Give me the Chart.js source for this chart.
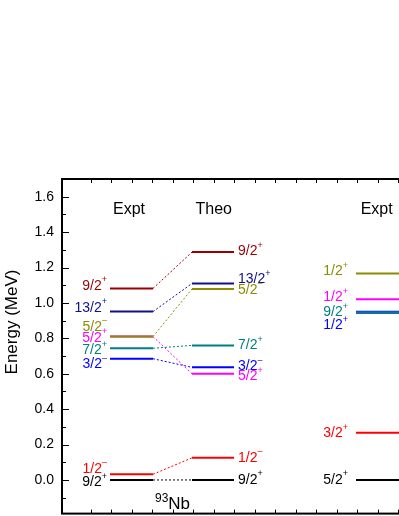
<!DOCTYPE html>
<html>
<head>
<meta charset="utf-8">
<script src="https://cdn.jsdelivr.net/npm/chart.js@4/dist/chart.umd.min.js"></script>
<style>
  html, body { margin: 0; padding: 0; background: #fff; overflow: hidden; }
  #levels { position: absolute; left: 0; top: 0; }
</style>
</head>
<body>
<canvas id="levels" width="470" height="530"></canvas>
<script>
// 93Nb: experiment vs theory
const nbSpins = ["9/2", "13/2", "5/2", "5/2", "7/2", "3/2", "1/2", "9/2"];
const nbParity = ["+", "+", "-", "+", "+", "-", "-", "+"];
const nbExpt = [1.082, 0.951, 0.81, 0.81, 0.744, 0.685, 0.032, 0.0];
const nbTheo = [1.287, 1.110, 1.079, 0.600, 0.760, 0.636, 0.125, 0.0];
const nbExptLabelAt = [1.097, 0.972, 0.864, 0.802, 0.732, 0.654, 0.062, -0.015];
const nbTheoLabelAt = [1.292, 1.135, 1.075, 0.585, 0.760, 0.641, 0.125, 0.0];
const nbColors = ["#990000", "#10108c", "#8c8c00", "#ff00ff", "#008080", "#0000ff", "#ff0000", "#000000"];

// second nucleus, experiment only (cut off on the right)
const rSpins = ["1/2", "1/2", "9/2", "1/2", "3/2", "5/2"];
const rParity = ["+", "+", "+", "+", "+", "+"];
const rExpt = [1.166, 1.021, 0.947, 0.947, 0.266, 0.0];
const rLabelAt = [1.179, 1.030, 0.947, 0.872, 0.262, 0.0];
const rColors = ["#8c8c00", "#ff00ff", "#008080", "#0000ff", "#ff0000", "#000000"];

const yTicks = [0, 0.2, 0.4, 0.6, 0.8, 1.0, 1.2, 1.4, 1.6];
const yMinor = [-0.1, 0.1, 0.3, 0.5, 0.7, 0.9, 1.1, 1.3, 1.5];

// column positions (x units)
const colExpt = [48, 91], colTheo = [130, 172], colRight = [294, 390];

const datasets = [];
nbExpt.forEach((e, i) => {
  datasets.push({ data: [{x: colExpt[0], y: e}, {x: colExpt[1], y: e}], borderColor: nbColors[i], borderWidth: 2 });
});
nbTheo.forEach((e, i) => {
  datasets.push({ data: [{x: colTheo[0], y: e}, {x: colTheo[1], y: e}], borderColor: nbColors[i], borderWidth: 2 });
});
nbExpt.forEach((e, i) => {
  datasets.push({ data: [{x: colExpt[1], y: e}, {x: colTheo[0], y: nbTheo[i]}], borderColor: nbColors[i], borderWidth: 1, borderDash: [2, 2] });
});
rExpt.forEach((e, i) => {
  datasets.push({ data: [{x: colRight[0], y: e}, {x: colRight[1], y: e}], borderColor: rColors[i], borderWidth: i == 3 ? 3 : 2 });
});

function drawLevelLabel(ctx, spin, parity, x, y, align) {
  const sup = parity == "-" ? "\u2013" : "+";
  ctx.font = "14px 'Liberation Sans', Arial, sans-serif";
  const w1 = ctx.measureText(spin).width;
  ctx.font = "9px 'Liberation Sans', Arial, sans-serif";
  const w2 = ctx.measureText(sup).width;
  let x0 = align == "right" ? x - w1 - w2 : x;
  ctx.textAlign = "left";
  ctx.textBaseline = "middle";
  ctx.font = "14px 'Liberation Sans', Arial, sans-serif";
  ctx.fillText(spin, x0, y);
  ctx.font = "9px 'Liberation Sans', Arial, sans-serif";
  ctx.fillText(sup, x0 + w1, y - 6);
}

const decor = {
  id: "decor",
  afterDraw(chart) {
    const ctx = chart.ctx, a = chart.chartArea;
    const xs = chart.scales.x, ys = chart.scales.y;
    ctx.save();
    // frame
    ctx.strokeStyle = "#000";
    ctx.lineWidth = 2;
    ctx.strokeRect(a.left, a.top, a.right - a.left, a.bottom - a.top);
    // inward y ticks
    ctx.lineWidth = 1;
    ctx.beginPath();
    yTicks.forEach(v => { const p = Math.round(ys.getPixelForValue(v)) + 0.5; ctx.moveTo(a.left, p); ctx.lineTo(a.left + 7, p); });
    yMinor.forEach(v => { const p = Math.round(ys.getPixelForValue(v)) + 0.5; ctx.moveTo(a.left, p); ctx.lineTo(a.left + 4, p); });
    // top / bottom ticks
    for (let v = 28.7; v < 400; v += 20.5) {
      const p = Math.round(xs.getPixelForValue(v)) + 0.5;
      ctx.moveTo(p, a.top); ctx.lineTo(p, a.top + 4);
      ctx.moveTo(p, a.bottom); ctx.lineTo(p, a.bottom - 4);
    }
    ctx.stroke();

    // level labels
    nbSpins.forEach((s, i) => {
      ctx.fillStyle = nbColors[i];
      drawLevelLabel(ctx, s, nbParity[i], xs.getPixelForValue(45), ys.getPixelForValue(nbExptLabelAt[i]), "right");
      drawLevelLabel(ctx, s, nbParity[i], xs.getPixelForValue(176), ys.getPixelForValue(nbTheoLabelAt[i]), "left");
    });
    rSpins.forEach((s, i) => {
      ctx.fillStyle = rColors[i];
      drawLevelLabel(ctx, s, rParity[i], xs.getPixelForValue(286), ys.getPixelForValue(rLabelAt[i]), "right");
    });

    // column headings
    ctx.fillStyle = "#000";
    ctx.textAlign = "center";
    ctx.textBaseline = "middle";
    ctx.font = "16px 'Liberation Sans', Arial, sans-serif";
    const hy = ys.getPixelForValue(1.53);
    ctx.fillText("Expt", xs.getPixelForValue(67), hy);
    ctx.fillText("Theo", xs.getPixelForValue(151.7), hy);
    ctx.fillText("Expt", xs.getPixelForValue(314.7), hy);

    // nucleus name
    ctx.textAlign = "left";
    ctx.textBaseline = "alphabetic";
    const nx = xs.getPixelForValue(93), ny = ys.getPixelForValue(-0.163);
    ctx.font = "12px 'Liberation Sans', Arial, sans-serif";
    ctx.fillText("93", nx, ny - 7);
    const w93 = ctx.measureText("93").width;
    ctx.font = "17px 'Liberation Sans', Arial, sans-serif";
    ctx.fillText("Nb", nx + w93, ny);

    // y title
    ctx.translate(12, 322);
    ctx.rotate(-Math.PI / 2);
    ctx.textAlign = "center";
    ctx.textBaseline = "middle";
    ctx.font = "17px 'Liberation Sans', Arial, sans-serif";
    ctx.fillText("Energy (MeV)", 0, 0);
    ctx.restore();
  }
};

new Chart(document.getElementById("levels").getContext("2d"), {
  type: "line",
  data: { datasets: datasets },
  options: {
    responsive: false,
    animation: false,
    layout: { padding: { top: 179, right: 8, bottom: 3, left: 0 } },
    elements: { point: { radius: 0, hoverRadius: 0 }, line: { tension: 0 } },
    plugins: { legend: { display: false }, tooltip: { enabled: false } },
    scales: {
      x: { type: "linear", min: 0, max: 400, display: false },
      y: {
        min: -0.19,
        max: 1.7,
        afterFit: s => { s.width = 62; },
        afterBuildTicks: s => { s.ticks = yTicks.map(v => ({ value: v })); },
        grid: { display: false, drawTicks: false },
        border: { display: false },
        ticks: {
          padding: 8,
          color: "#000",
          font: { family: "'Liberation Sans', Arial, sans-serif", size: 14 },
          callback: v => v.toFixed(1)
        }
      }
    }
  },
  plugins: [decor]
});
</script>
</body>
</html>
